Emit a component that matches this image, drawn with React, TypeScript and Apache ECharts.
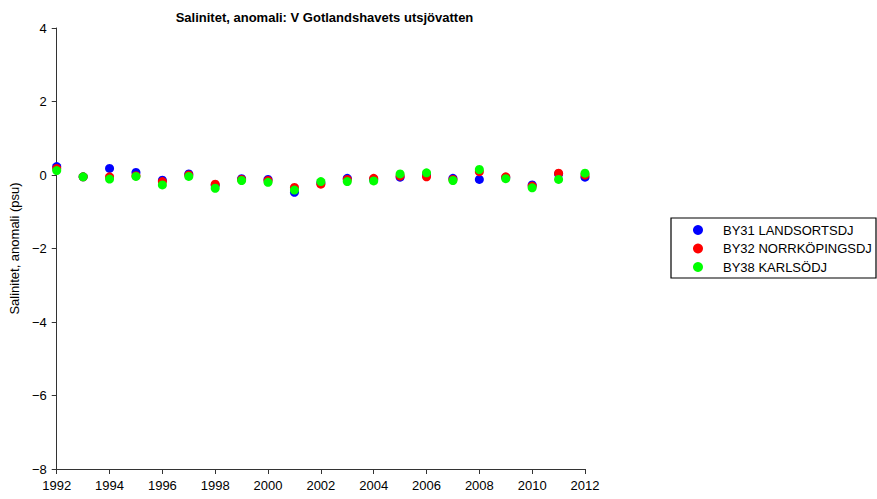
import React, { useEffect, useRef } from "react";
import * as echarts from "echarts";

const years = [1992, 1993, 1994, 1995, 1996, 1997, 1998, 1999, 2000, 2001, 2002, 2003, 2004, 2005, 2006, 2007, 2008, 2009, 2010, 2011, 2012];
const by31 = [0.23, -0.05, 0.18, 0.07, -0.14, 0.03, -0.28, -0.10, -0.12, -0.47, -0.22, -0.09, -0.12, -0.06, 0.00, -0.09, -0.12, -0.07, -0.27, 0.03, -0.06];
const by32 = [0.18, -0.05, -0.05, -0.02, -0.18, 0.00, -0.25, -0.12, -0.15, -0.34, -0.25, -0.12, -0.09, -0.03, -0.05, -0.12, 0.09, -0.05, -0.30, 0.05, 0.00];
const by38 = [0.12, -0.05, -0.11, -0.04, -0.27, -0.04, -0.36, -0.15, -0.20, -0.41, -0.18, -0.18, -0.16, 0.03, 0.06, -0.15, 0.15, -0.10, -0.35, -0.12, 0.05];
const seriesNames = ["BY31 LANDSORTSDJ", "BY32 NORRKÖPINGSDJ", "BY38 KARLSÖDJ"];
const seriesColors = ["#0000ff", "#ff0000", "#00ff00"];
const titleText = "Salinitet, anomali: V Gotlandshavets utsjövatten";
const yAxisName = "Salinitet, anomali (psu)";

const FONT = '"Liberation Sans", Arial, Helvetica, sans-serif';

export default function App() {
  const ref = useRef<HTMLDivElement>(null);
  useEffect(() => {
    if (!ref.current) return;
    const chart = echarts.init(ref.current, undefined, { renderer: "svg" });
    const allData = [by31, by32, by38];
    const axisLine = { show: true, onZero: false, lineStyle: { color: "#333", width: 1 } };
    chart.setOption({
      animation: false,
      backgroundColor: "#fff",
      textStyle: { fontFamily: FONT },
      title: {
        text: titleText,
        left: 319.5,
        top: 6,
        textAlign: "center",
        textStyle: { fontFamily: FONT, fontSize: 13, fontWeight: "bold", color: "#000" },
      },
      grid: { left: 54, top: 28, width: 531, height: 441, containLabel: false },
      xAxis: {
        type: "value",
        min: 1992,
        max: 2012,
        interval: 2,
        axisLine,
        axisTick: { show: true, length: 5, lineStyle: { color: "#333" } },
        splitLine: { show: false },
        axisLabel: { fontFamily: FONT, fontSize: 13, color: "#000", margin: 10, formatter: (v: number) => String(v) },
      },
      yAxis: {
        type: "value",
        min: -8,
        max: 4,
        interval: 2,
        name: yAxisName,
        nameLocation: "middle",
        nameGap: 29,
        nameTextStyle: { fontFamily: FONT, fontSize: 13, color: "#000" },
        axisLine,
        axisTick: { show: true, length: 5, lineStyle: { color: "#333" } },
        splitLine: { show: false },
        axisLabel: {
          fontFamily: FONT,
          fontSize: 13,
          color: "#000",
          margin: 10,
          formatter: (v: number) => String(v).replace("-", "\u2212"),
        },
      },
      legend: {
        orient: "vertical",
        left: 693,
        top: 222.5,
        padding: 0,
        itemWidth: 10,
        itemHeight: 10,
        itemGap: 3.5,
        icon: "circle",
        textStyle: { fontFamily: FONT, fontSize: 13, color: "#000", lineHeight: 15, padding: [0, 0, 0, 15] },
        data: seriesNames,
      },
      graphic: [
        {
          type: "rect",
          shape: { x: 671, y: 218, width: 205, height: 60 },
          style: { fill: "none", stroke: "#000", lineWidth: 1.2 },
          z: 10,
        },
      ],
      series: seriesNames.map((name, i) => ({
        name,
        type: "scatter",
        symbol: "circle",
        symbolSize: 9,
        itemStyle: { color: seriesColors[i], opacity: 1 },
        data: years.map((y, j) => [y, allData[i][j]]),
        z: 2 + i,
      })),
    });
    return () => chart.dispose();
  }, []);
  return <div ref={ref} style={{ position: "fixed", left: 0, top: 0, width: 877, height: 499 }} />;
}
